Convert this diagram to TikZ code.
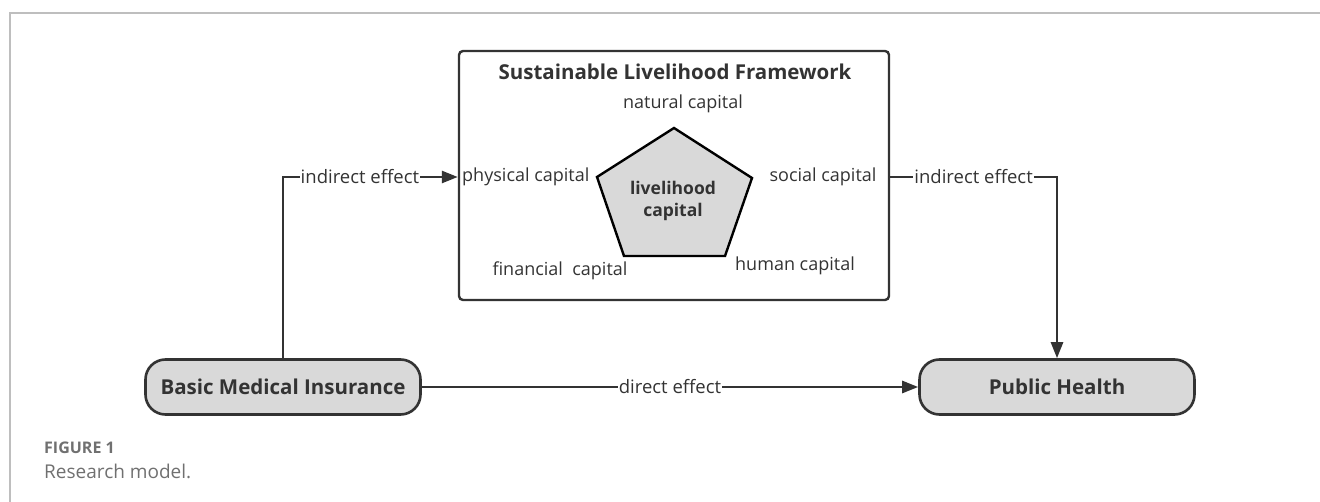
\documentclass[tikz,border=0pt]{standalone}
\usepackage{fontspec}
\setmainfont{Open Sans}
\usetikzlibrary{arrows.meta, positioning}
\definecolor{ink}{RGB}{51,51,51}
\definecolor{boxfill}{RGB}{217,217,217}
\definecolor{rulegray}{RGB}{190,190,190}
\definecolor{capgray}{RGB}{112,112,112}
\tikzset{
    endpoint/.style={draw=ink, fill=boxfill, line width=2.6pt, rounded corners=20pt,
        minimum width=275pt, minimum height=55pt, text=ink,
        font=\fontsize{20.5}{24}\selectfont\bfseries},
    framework/.style={draw=ink, line width=2.4pt, rounded corners=4pt,
        minimum width=430pt, minimum height=249pt},
    link/.style={draw=ink, line width=2.6pt, -{Triangle[length=16pt,width=12pt]}},
    effect/.style={fill=white, inner sep=1pt, text=ink,
        font=\fontsize{18.5}{20}\selectfont},
    capital/.style={inner sep=0pt, text=ink, font=\fontsize{18}{20}\selectfont},
    pentagon/.style={draw=black, fill=boxfill, line width=2.4pt, line join=miter},
}
\begin{document}
\begin{tikzpicture}[x=1pt, y=-1pt]
\useasboundingbox (0,0) rectangle (1320,502);
% page frame
\draw[rulegray, line width=1.2pt] (10,502) -- (10,13) -- (1320,13);

% outcome boxes
\node[endpoint] (bmi) at (283,387) {Basic Medical Insurance};
\node[endpoint] (ph) at (1057,387) {Public Health};

% the framework box
\node[framework] (slf) at (674,175.5) {};
\node[text=ink, font=\fontsize{20.5}{24}\selectfont\bfseries] (title) at (675,72)
    {Sustainable Livelihood Framework};

% pentagon of capitals
\coordinate (top) at (674,128);
\coordinate (ul) at (597,177);
\coordinate (ur) at (752,178);
\coordinate (ll) at (624,256);
\coordinate (lr) at (725,256);
\draw[pentagon] (top) -- (ur) -- (lr) -- (ll) -- (ul) -- cycle;
\node[text=ink, align=center, font=\fontsize{17.5}{22}\selectfont\bfseries] (core) at (673,201)
    {livelihood\\capital};

\node[capital] (natural) at (683,104) {natural capital};
\node[capital, anchor=west] (physical) at (462,177) {physical capital};
\node[capital] (social) at (823,177) {social capital};
\node[capital] (financial) at (560,271) {financial\ \ capital};
\node[capital] (human) at (795,266) {human capital};

% effects
\draw[link] (bmi.north) |- node[effect, pos=0.72] {indirect effect} (slf.west |- physical.west);
\draw[link] (slf.east |- social) -| node[effect, pos=0.25] {indirect effect} (ph.north);
\draw[link] (bmi.east) -- node[effect, pos=0.5] {direct effect} (ph.west);

% caption
\node[anchor=west, inner sep=0pt, text=capgray, font=\fontsize{16}{18}\selectfont\bfseries] (fig) at (44,448) {FIGURE 1};
\node[anchor=west, inner sep=0pt, text=capgray, font=\fontsize{19}{21}\selectfont] (caption) at (44,471) {Research model.};
\end{tikzpicture}
\end{document}
